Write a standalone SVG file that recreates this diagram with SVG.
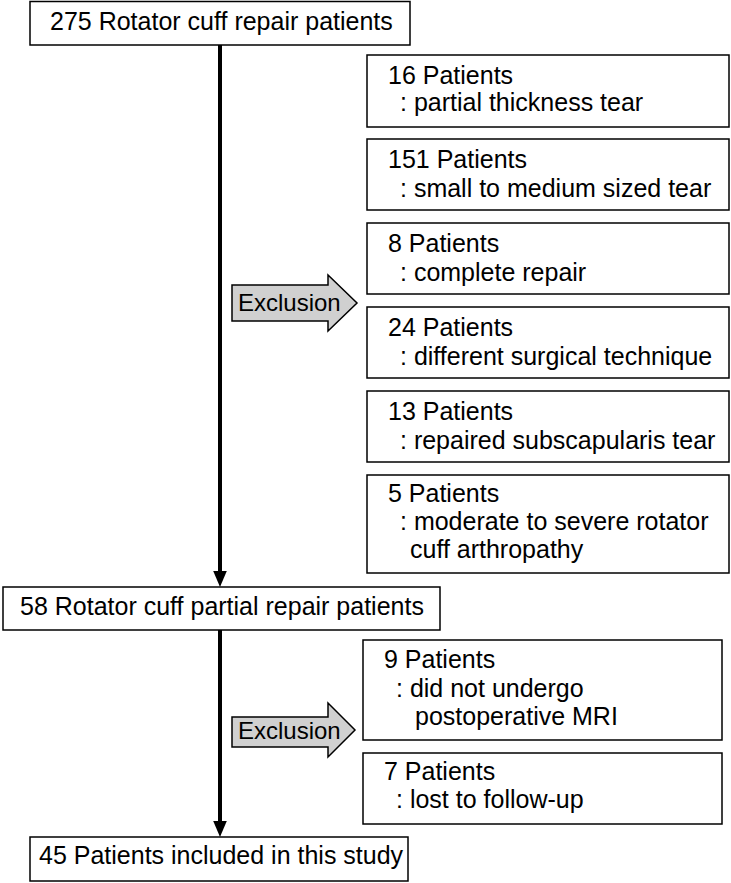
<svg xmlns="http://www.w3.org/2000/svg" width="731" height="883" viewBox="0 0 731 883">
<style>
.box{fill:#fff;stroke:#000;stroke-width:1.5}
.t{font-family:"Liberation Sans",Arial,sans-serif;font-size:25px;fill:#000}
.tx{font-family:"Liberation Sans",Arial,sans-serif;font-size:24px;fill:#000}
.ex{fill:#d0d0d0;stroke:#000;stroke-width:1.5;stroke-linejoin:miter}
.ln{stroke:#000;stroke-width:4;fill:none}
</style>
<defs>
<marker id="ah" markerWidth="4" markerHeight="4" refX="1" refY="2" orient="auto" markerUnits="strokeWidth">
<path d="M0,0.3 L4,2 L0,3.7 z" fill="#000"/>
</marker>
</defs>
<g id="connectors">
<line class="ln" x1="220" y1="45" x2="220" y2="575" marker-end="url(#ah)"/>
<line class="ln" x1="220" y1="630" x2="220" y2="825" marker-end="url(#ah)"/>
<path class="ex" d="M232,285 H328 V275 L357,303 L328,331 V321 H232 Z"/>
<text class="tx" x="238" y="311">Exclusion</text>
<path class="ex" d="M232,717 H328 V703 L355,730 L328,757 V747 H232 Z"/>
<text class="tx" x="238" y="739">Exclusion</text>
</g>
<g id="n0"><rect class="box" x="30" y="1.5" width="380" height="43.5"/><text class="t" x="50" y="30">275 Rotator cuff repair patients</text></g>
<g id="n1"><rect class="box" x="367" y="55" width="362" height="72"/><text class="t" x="388" y="84">16 Patients</text><text class="t" x="400" y="111">: partial thickness tear</text></g>
<g id="n2"><rect class="box" x="367" y="139" width="362" height="71"/><text class="t" x="388" y="168">151 Patients</text><text class="t" x="400" y="197">: small to medium sized tear</text></g>
<g id="n3"><rect class="box" x="367" y="223" width="362" height="71"/><text class="t" x="388" y="252">8 Patients</text><text class="t" x="400" y="281">: complete repair</text></g>
<g id="n4"><rect class="box" x="367" y="307" width="362" height="71"/><text class="t" x="388" y="336">24 Patients</text><text class="t" x="400" y="365">: different surgical technique</text></g>
<g id="n5"><rect class="box" x="367" y="391" width="362" height="71"/><text class="t" x="388" y="420">13 Patients</text><text class="t" x="400" y="449">: repaired subscapularis tear</text></g>
<g id="n6"><rect class="box" x="367" y="475" width="362" height="98"/><text class="t" x="388" y="502">5 Patients</text><text class="t" x="400" y="530">: moderate to severe rotator</text><text class="t" x="410" y="558">cuff arthropathy</text></g>
<g id="n7"><rect class="box" x="3" y="587" width="437" height="43"/><text class="t" x="20" y="615">58 Rotator cuff partial repair patients</text></g>
<g id="n8"><rect class="box" x="363" y="640" width="359" height="100"/><text class="t" x="384" y="668">9 Patients</text><text class="t" x="396" y="697">: did not undergo</text><text class="t" x="415" y="725">postoperative MRI</text></g>
<g id="n9"><rect class="box" x="363" y="753" width="359" height="71"/><text class="t" x="384" y="780">7 Patients</text><text class="t" x="396" y="808">: lost to follow-up</text></g>
<g id="n10"><rect class="box" x="30" y="837" width="378" height="44"/><text class="t" x="39" y="864">45 Patients included in this study</text></g>
</svg>
